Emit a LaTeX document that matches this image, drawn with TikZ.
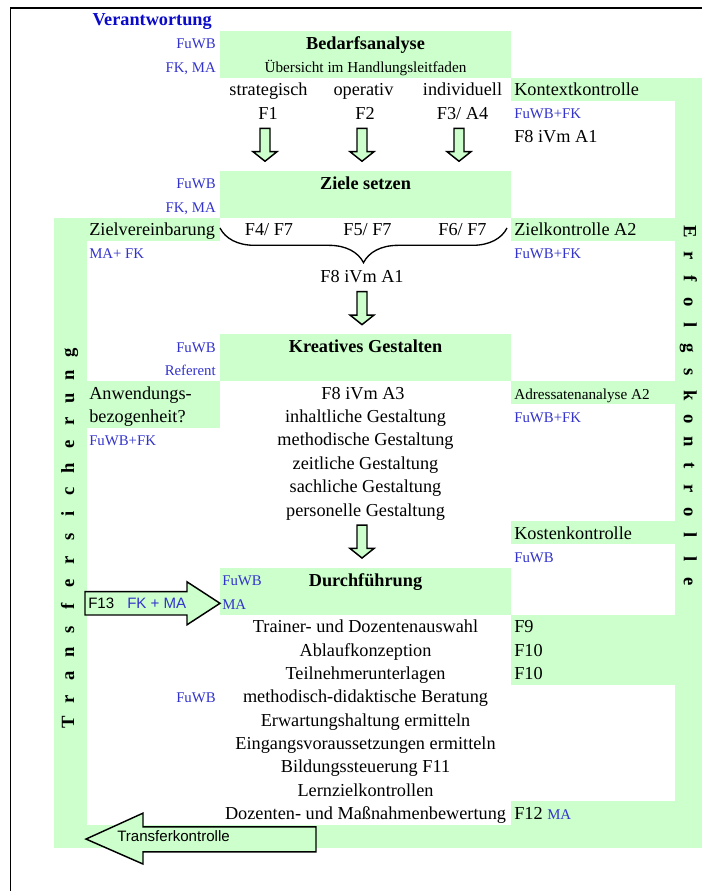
\documentclass[tikz,border=0pt]{standalone}
\usepackage{fontspec}
\setmainfont{Liberation Serif}
\setsansfont{Liberation Sans}
\usepackage{xcolor}
\usepackage{tikz}
\usetikzlibrary{decorations.pathreplacing,positioning}

\definecolor{lgreen}{RGB}{204,255,204}
\definecolor{lblue}{RGB}{51,51,204}
\definecolor{vblue}{RGB}{10,10,200}

\begin{document}
\begin{tikzpicture}[x=0.75pt,y=-17.505pt,
    txt/.style={inner sep=0pt,anchor=mid,yshift=-2.6pt,font=\fontsize{13.7}{16}\selectfont},
    hd/.style={inner sep=0pt,anchor=mid,yshift=-2.6pt,font=\bfseries\fontsize{13.7}{16}\selectfont},
    lab/.style={inner sep=0pt,anchor=mid,yshift=-2.4pt,text=lblue,font=\fontsize{11.1}{13}\selectfont},
    sm/.style={inner sep=0pt,anchor=mid,yshift=-2.4pt,font=\fontsize{11.4}{13}\selectfont},
    sf/.style={inner sep=0pt,anchor=mid,yshift=-1.8pt,font=\sffamily\fontsize{11.3}{13}\selectfont},
    vert/.style={inner sep=0pt,anchor=mid,font=\bfseries\fontsize{14}{16}\selectfont},
    blk/.style={draw=black,fill=lgreen,line width=1.1pt,line join=miter}]
    \useasboundingbox (0,-0.328) rectangle (702,37.846);
    % Green boxes (middle)
    \fill[lgreen] (220,1) rectangle (511,3);
    \fill[lgreen] (220,7) rectangle (511,9);
    \fill[lgreen] (220,14) rectangle (511,16);
    \fill[lgreen] (220,24) rectangle (511,26);
    % Left column
    \fill[lgreen] (54,9) rectangle (87,36);
    \fill[lgreen] (87,9) rectangle (220,10);
    \fill[lgreen] (87,16) rectangle (220,18);
    \fill[lgreen] (54,35) rectangle (702,36);
    % Right column
    \fill[lgreen] (511,3) rectangle (702,36);
    \fill[white] (511,4) rectangle (675,9);
    \fill[white] (511,10) rectangle (675,16);
    \fill[white] (511,17) rectangle (675,22);
    \fill[white] (511,23) rectangle (675,26);
    \fill[white] (511,29) rectangle (675,34);
    % Frame
    \draw[line width=1.1pt] (10.5,37.9) -- (10.5,0.02) -- (702,0.02);
    % Down arrows
    \foreach \c/\r in {265/5,362/5,459/5,362/12,362/22}
        \draw[blk] (\c-5,\r+0.17) -- (\c+5,\r+0.17) -- (\c+5,\r+1.17) -- (\c+12,\r+1.17)
            -- (\c,\r+1.58) -- (\c-12,\r+1.17) -- (\c-5,\r+1.17) -- cycle;
    % F13 arrow
    \draw[blk] (85,25.02) -- (187,25.02) -- (187,24.6) -- (220,25.52) -- (187,26.44)
        -- (187,26.02) -- (85,26.02) -- cycle;
    % Transferkontrolle arrow
    \draw[blk] (316,35.1) -- (143,35.1) -- (143,34.51) -- (86,35.62) -- (143,36.69)
        -- (143,36.17) -- (316,36.17) -- cycle;
    % Verantwortung
    \node[hd,text=vblue,anchor=mid east] (vera) at (212,0.5) {Verantwortung};
    % Bedarfsanalyse
    \node[lab,anchor=mid east] (bfuwb) at (216,1.5) {FuWB};
    \node[lab,anchor=mid east] (bfkma) at (216,2.5) {FK, MA};
    \node[hd] (bedarf) at (365.5,1.5) {Bedarfsanalyse};
    \node[sm] (uebers) at (365.5,2.5) {Übersicht im Handlungsleitfaden};
    \node[txt] (strat) at (268.5,3.5) {strategisch};
    \node[txt] (oper) at (363.5,3.5) {operativ};
    \node[txt] (indiv) at (462.5,3.5) {individuell};
    \node[txt] (fa) at (268,4.5) {F1};
    \node[txt] (fb) at (365,4.5) {F2};
    \node[txt] (fc) at (462.5,4.5) {F3/ A4};
    \node[txt,anchor=mid west] (kontext) at (514,3.5) {Kontextkontrolle};
    \node[lab,anchor=mid west] (kfuwb) at (514,4.5) {FuWB+FK};
    \node[txt,anchor=mid west] (kfacht) at (514,5.5) {F8 iVm A1};
    % Ziele setzen
    \node[lab,anchor=mid east] (zfuwb) at (216,7.5) {FuWB};
    \node[lab,anchor=mid east] (zfkma) at (216,8.5) {FK, MA};
    \node[hd] (ziele) at (365.5,7.5) {Ziele setzen};
    \node[txt,anchor=mid west] (zverein) at (89,9.5) {Zielvereinbarung};
    \node[txt] (fd) at (269,9.5) {F4/ F7};
    \node[txt] (fe) at (367.5,9.5) {F5/ F7};
    \node[txt] (ff) at (462.5,9.5) {F6/ F7};
    \node[txt,anchor=mid west] (zkontr) at (514,9.5) {Zielkontrolle A2};
    \node[lab,anchor=mid west] (zmafk) at (89,10.5) {MA+ FK};
    \node[lab,anchor=mid west] (zkfuwb) at (514,10.5) {FuWB+FK};
    \node[txt] (zfacht) at (362,11.5) {F8 iVm A1};
    % Brace
    \coordinate (brl) at (220,9.44);
    \coordinate (brr) at (507,9.44);
    \draw[line width=1pt,decorate,decoration={brace,mirror,amplitude=26pt}] (brl) -- (brr);
    % Kreatives Gestalten
    \node[lab,anchor=mid east] (kgfuwb) at (216,14.5) {FuWB};
    \node[lab,anchor=mid east] (kgref) at (216,15.5) {Referent};
    \node[hd] (kreativ) at (365.5,14.5) {Kreatives Gestalten};
    \node[txt,anchor=mid west] (anw) at (89,16.5) {Anwendungs-};
    \node[txt,anchor=mid west] (bez) at (89,17.5) {bezogenheit?};
    \node[lab,anchor=mid west] (afuwb) at (89,18.5) {FuWB+FK};
    \node[txt] (kfa) at (363,16.5) {F8 iVm A3};
    \node[txt] (kinh) at (365.5,17.5) {inhaltliche Gestaltung};
    \node[txt] (kmeth) at (365.5,18.5) {methodische Gestaltung};
    \node[txt] (kzeit) at (365.5,19.5) {zeitliche Gestaltung};
    \node[txt] (ksach) at (365.5,20.5) {sachliche Gestaltung};
    \node[txt] (kpers) at (365.5,21.5) {personelle Gestaltung};
    \node[sm,anchor=mid west] (adress) at (514,16.5) {Adressatenanalyse A2};
    \node[lab,anchor=mid west] (adfuwb) at (514,17.5) {FuWB+FK};
    \node[txt,anchor=mid west] (kosten) at (514,22.5) {Kostenkontrolle};
    \node[lab,anchor=mid west] (kofuwb) at (514,23.5) {FuWB};
    % Durchfuehrung
    \node[lab,anchor=mid west] (dfuwb) at (222,24.5) {FuWB};
    \node[lab,anchor=mid west] (dma) at (222,25.5) {MA};
    \node[hd] (durch) at (365.5,24.5) {Durchführung};
    \node[sf,anchor=mid west] (fdrei) at (88,25.5) {F13};
    \node[sf,text=lblue,anchor=mid west] (fkma) at (127,25.5) {FK + MA};
    \node[txt] (dtrain) at (365.5,26.5) {Trainer- und Dozentenauswahl};
    \node[txt] (dablauf) at (365.5,27.5) {Ablaufkonzeption};
    \node[txt] (dteil) at (365.5,28.5) {Teilnehmerunterlagen};
    \node[txt] (dmeth) at (365.5,29.5) {methodisch-didaktische Beratung};
    \node[txt] (derw) at (365.5,30.5) {Erwartungshaltung ermitteln};
    \node[txt] (deing) at (365.5,31.5) {Eingangsvoraussetzungen ermitteln};
    \node[txt] (dbild) at (365.5,32.5) {Bildungssteuerung F11};
    \node[txt] (dlern) at (365.5,33.5) {Lernzielkontrollen};
    \node[txt] (ddoz) at (365.5,34.5) {Dozenten- und Maßnahmenbewertung};
    \node[lab,anchor=mid east] (dfuwbb) at (216,29.5) {FuWB};
    \node[txt,anchor=mid west] (fneun) at (514,26.5) {F9};
    \node[txt,anchor=mid west] (fzehn) at (514,27.5) {F10};
    \node[txt,anchor=mid west] (fzehnb) at (514,28.5) {F10};
    \node[txt,anchor=mid west] (fzwoelf) at (514,34.5)
        {F12 \textcolor{lblue}{\fontsize{11.1}{13}\selectfont MA}};
    \node[sf,anchor=mid west] (tkontr) at (117,35.5) {Transferkontrolle};
    % Transfersicherung (left column)
    \foreach \ch [count=\i from 0] in {T,r,a,n,s,f,e,r,s,i,c,h,e,r,u,n,g}
        \node[vert,rotate=90] (tr\i) at (71,30.61-0.99*\i) {\ch};
    % Erfolgskontrolle (right column)
    \foreach \ch [count=\i from 0] in {E,r,f,o,l,g,s,k,o,n,t,r,o,l,l,e}
        \node[vert,rotate=-90] (ek\i) at (687,9.61+\i) {\ch};
\end{tikzpicture}
\end{document}
